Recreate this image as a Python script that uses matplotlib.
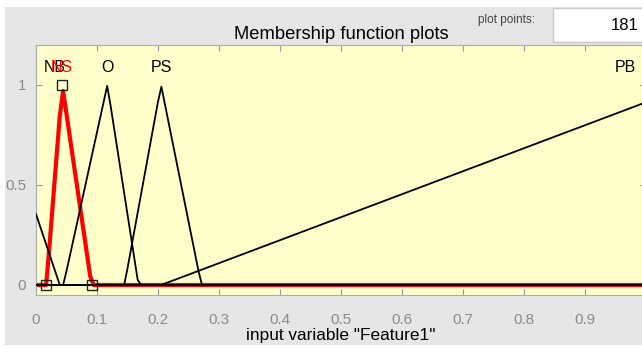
import numpy as np
import matplotlib.pyplot as plt
from matplotlib.patches import Rectangle

# membership functions of input "Feature1" (triangles a, b, c)
mf_names = ["NB", "NS", "O", "PS", "PB"]
mf_params = [[-0.18, -0.071, 0.039],
             [0.017, 0.043, 0.091],
             [0.045, 0.117, 0.168],
             [0.145, 0.205, 0.271],
             [0.205, 1.075, 1.95]]
label_x = [0.03, 0.043, 0.117, 0.205, 0.966]
selected = "NS"
n_points = 181

xs = np.linspace(0, 1, n_points)


def trimf(x, p):
    a, b, c = p
    return np.maximum(np.minimum((x - a) / (b - a), (c - x) / (c - b)), 0)


plt.rcParams['font.family'] = ['Liberation Sans', 'DejaVu Sans']
fig = plt.figure(figsize=(6.42, 3.48), dpi=100)
fig.patch.set_facecolor('white')
fig.patches.append(Rectangle((5 / 642, 3 / 348), 1, 338 / 348, transform=fig.transFigure,
                             facecolor='#e6e6e6', edgecolor='none', zorder=-5))

ax = fig.add_axes([36 / 642, 53 / 348, 610 / 642, 250 / 348])
ax.set_zorder(2)
ax.set_facecolor('#ffffcc')

for name, p in zip(mf_names, mf_params):
    ys = trimf(xs, p)
    if name == selected:
        ax.plot(xs, ys, color='red', lw=3, zorder=2)
        a, b, c = p
        ax.plot([a, b, c], [0, 1, 0], ls='none', marker='s', ms=6.5,
                mfc='none', mec='#222222', mew=1, zorder=4, clip_on=False)
    else:
        ax.plot(xs, ys, color='black', lw=1.3, zorder=3)

for name, lx in zip(mf_names, label_x):
    ax.text(lx, 1.09, name, ha='center', va='center', fontsize=11.5,
            color='red' if name == selected else 'black', zorder=5)

ax.set_xlim(0, 1)
ax.set_ylim(-0.05, 1.2)
ax.set_xticks(np.arange(0, 1.01, 0.1))
ax.set_xticklabels(["0", "0.1", "0.2", "0.3", "0.4", "0.5", "0.6", "0.7", "0.8", "0.9", "1"])
ax.set_yticks([0, 0.5, 1])
ax.set_yticklabels(["0", "0.5", "1"])
ax.tick_params(axis='x', direction='in', top=True, length=4, color='#999999',
               labelcolor='#8a8a8a', labelsize=11, pad=13)
ax.tick_params(axis='y', direction='in', right=True, length=4, color='#999999',
               labelcolor='#8a8a8a', labelsize=11, pad=7)
for s in ax.spines.values():
    s.set_color('#aaaaaa')

ax.set_title("Membership function plots", fontsize=13.2, pad=4)
ax.set_xlabel('input variable "Feature1"', fontsize=12.4, labelpad=1)

fig.text(535 / 642, 1 - 20 / 348, "plot points:", fontsize=8.5, color='#444444',
         ha='right', va='center')
fig.patches.append(Rectangle((553 / 642, 1 - 42 / 348), 100 / 642, 34 / 348,
                             transform=fig.transFigure, facecolor='white',
                             edgecolor='#c8c8c8', lw=1, zorder=1))
fig.text(638 / 642, 1 - 25 / 348, str(n_points), fontsize=12, ha='right', va='center')

fig.savefig("out.png", dpi=100)
